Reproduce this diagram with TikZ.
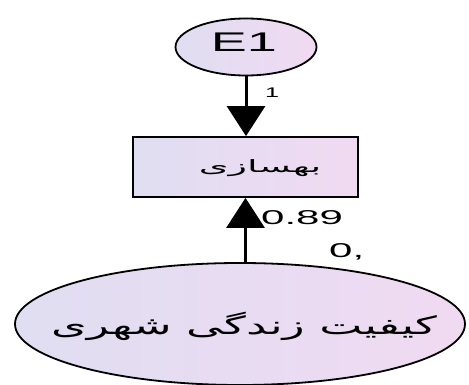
\documentclass[tikz,border=0pt]{standalone}
\usepackage{fontspec}
\setmainfont{Liberation Sans}
\newfontfamily\arS[Script=Arabic,FakeStretch=2.25]{DejaVu Sans}
\newfontfamily\arL[Script=Arabic,FakeStretch=1.83]{DejaVu Sans}
\newfontfamily\latE[FakeStretch=2.0]{Liberation Sans}
\newfontfamily\latN[FakeStretch=2.1]{Liberation Sans}
\newfontfamily\latO[FakeStretch=1.8]{Liberation Sans}
\TeXXeTstate=1
\usetikzlibrary{arrows.meta,shapes.geometric}
\definecolor{lavL}{RGB}{224,222,242}
\definecolor{lavR}{RGB}{240,218,242}
\tikzset{
  latent/.style={ellipse,draw=black,line width=1.8pt,left color=lavL,right color=lavR,inner sep=0pt},
  observed/.style={rectangle,draw=black,line width=1.8pt,left color=lavL,right color=lavR,inner sep=0pt},
  path/.style={line width=3pt,-{Triangle[width=38pt,length=30pt]}},
  lbl/.style={text=black,inner sep=0pt}
}
\begin{document}
\begin{tikzpicture}[x=1pt,y=1pt]
\useasboundingbox (0,0) rectangle (469,-385);
\node[latent,minimum width=141pt,minimum height=57pt] (e1) at (246,-47) {};
\node[lbl] (e1t) at (244,-42) {\latE\fontsize{27}{27}\selectfont E1};
\node[observed,minimum width=225pt,minimum height=60pt] (obs) at (245.5,-167) {};
\node[lbl] (obst) at (260,-168) {\arS\fontsize{17}{17}\selectfont\beginR بهسازی\endR};
\node[latent,minimum width=450pt,minimum height=122pt] (lat) at (240,-324) {};
\node[lbl] (latt) at (244,-326) {\arL\fontsize{25}{25}\selectfont\beginR کیفیت زندگی شهری\endR};
\draw[path] (e1.south) -- (e1.south |- obs.north);
\draw[path] (lat.north -| obs.south) -- (obs.south);
\node[lbl,anchor=west] (l1) at (265,-93) {\latO\fontsize{14}{14}\selectfont 1};
\node[lbl,anchor=west] (l2) at (261,-218) {\latN\fontsize{20}{20}\selectfont 0.89};
\node[lbl,anchor=west] (l3) at (329,-252) {\latN\fontsize{20}{20}\selectfont 0,};
\end{tikzpicture}
\end{document}
